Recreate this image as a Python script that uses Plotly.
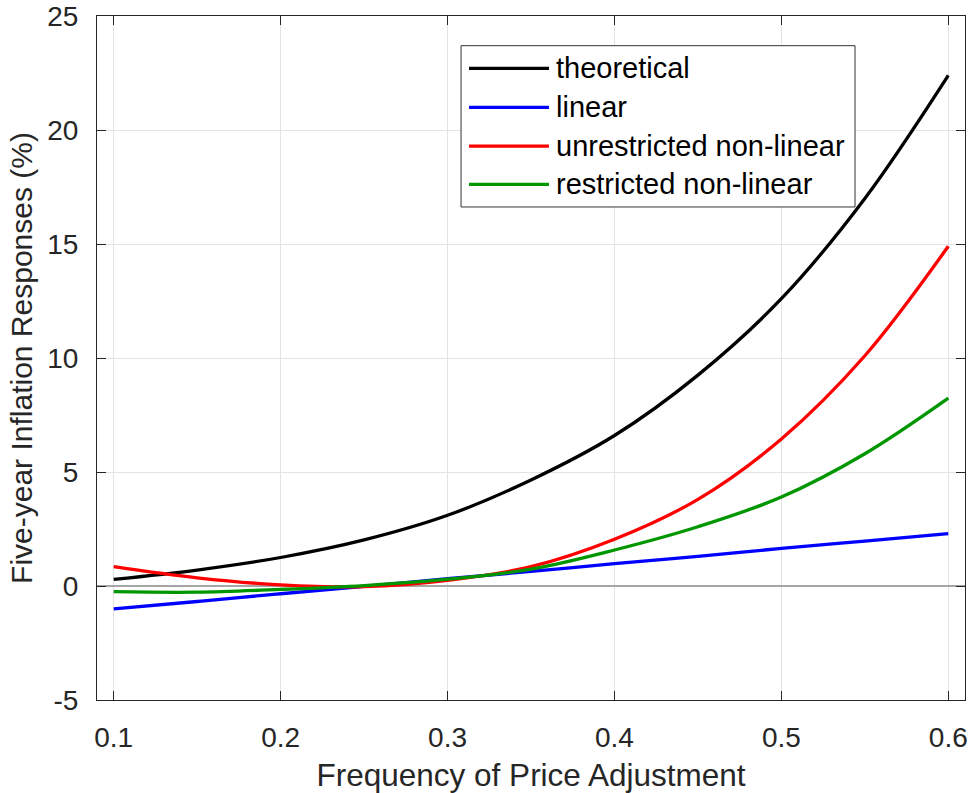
import plotly.graph_objects as go

# ---- data ----
freq = [0.10, 0.15, 0.20, 0.25, 0.30, 0.35, 0.40, 0.45, 0.50, 0.55, 0.60]
theoretical = [0.29, 0.70, 1.25, 2.02, 3.10, 4.65, 6.60, 9.25, 12.60, 17.00, 22.40]
linear = [-1.00, -0.68, -0.34, -0.02, 0.32, 0.64, 0.98, 1.30, 1.65, 1.97, 2.30]
unrestricted = [0.85, 0.36, 0.05, -0.03, 0.25, 0.85, 2.05, 3.80, 6.45, 10.10, 14.90]
restricted = [-0.25, -0.27, -0.15, 0.02, 0.30, 0.74, 1.58, 2.60, 3.90, 5.80, 8.24]

series_names = ["theoretical", "linear", "unrestricted non-linear", "restricted non-linear"]
series_values = [theoretical, linear, unrestricted, restricted]
series_colors = ["#000000", "#0000ff", "#ff0000", "#009600"]

x_ticks = [0.1, 0.2, 0.3, 0.4, 0.5, 0.6]
x_ticktext = ["0.1", "0.2", "0.3", "0.4", "0.5", "0.6"]
y_ticks = [-5, 0, 5, 10, 15, 20, 25]
y_ticktext = ["-5", "0", "5", "10", "15", "20", "25"]

FONT = "Liberation Sans, Arial, Helvetica, sans-serif"
AXC = "#262626"

fig = go.Figure()
for name, vals, col in zip(series_names, series_values, series_colors):
    fig.add_trace(go.Scatter(x=freq, y=vals, mode="lines", name=name,
                             line=dict(color=col, width=3.3, shape="spline", smoothing=1.0),
                             showlegend=False))

# ---- manual MATLAB-like legend ----
lx0, lx1 = 0.4194, 0.8733
ly0, ly1 = 0.7208, 0.9566
fig.add_shape(type="rect", xref="paper", yref="paper", x0=lx0, x1=lx1, y0=ly0, y1=ly1,
              line=dict(color="#333333", width=1), fillcolor="white", layer="above")
row_y = [0.9235, 0.8665, 0.8099, 0.7539]
for name, col, ry in zip(series_names, series_colors, row_y):
    fig.add_shape(type="line", xref="paper", yref="paper", x0=0.4286, x1=0.5207,
                  y0=ry, y1=ry, line=dict(color=col, width=3.3), layer="above")
    fig.add_annotation(xref="paper", yref="paper", x=0.5265, y=ry, text=name,
                       showarrow=False, xanchor="left", yanchor="middle",
                       font=dict(family=FONT, size=29, color="#000000"))

fig.update_layout(
    width=970, height=793,
    margin=dict(l=97, r=5, t=16, b=93),
    paper_bgcolor="white", plot_bgcolor="white",
    font=dict(family=FONT, color=AXC),
)
fig.update_xaxes(
    range=[0.09, 0.61], tickvals=x_ticks, ticktext=x_ticktext,
    ticks="inside", ticklen=9, tickwidth=1, tickcolor=AXC,
    showline=True, linecolor=AXC, linewidth=1, mirror="ticks",
    showgrid=True, gridcolor="#e3e3e3", gridwidth=1, zeroline=False,
    tickfont=dict(family=FONT, size=28, color=AXC), ticklabelstandoff=12,
    title=dict(text="Frequency of Price Adjustment", standoff=12,
               font=dict(family=FONT, size=31.5, color=AXC)),
    automargin=False,
)
fig.update_yaxes(
    range=[-5, 25], tickvals=y_ticks, ticktext=y_ticktext,
    ticks="inside", ticklen=9, tickwidth=1, tickcolor=AXC,
    showline=True, linecolor=AXC, linewidth=1, mirror="ticks",
    showgrid=True, gridcolor="#e3e3e3", gridwidth=1,
    zeroline=True, zerolinecolor="#a6a6a6", zerolinewidth=1.5,
    tickfont=dict(family=FONT, size=28, color=AXC), ticklabelstandoff=12,
    title=dict(text="Five-year Inflation Responses (%)", standoff=5,
               font=dict(family=FONT, size=30, color=AXC)),
    automargin=False,
)

fig.write_html("out.html", config={"displayModeBar": False},
               post_script="document.body.style.margin='0';document.body.style.overflow='hidden';")
